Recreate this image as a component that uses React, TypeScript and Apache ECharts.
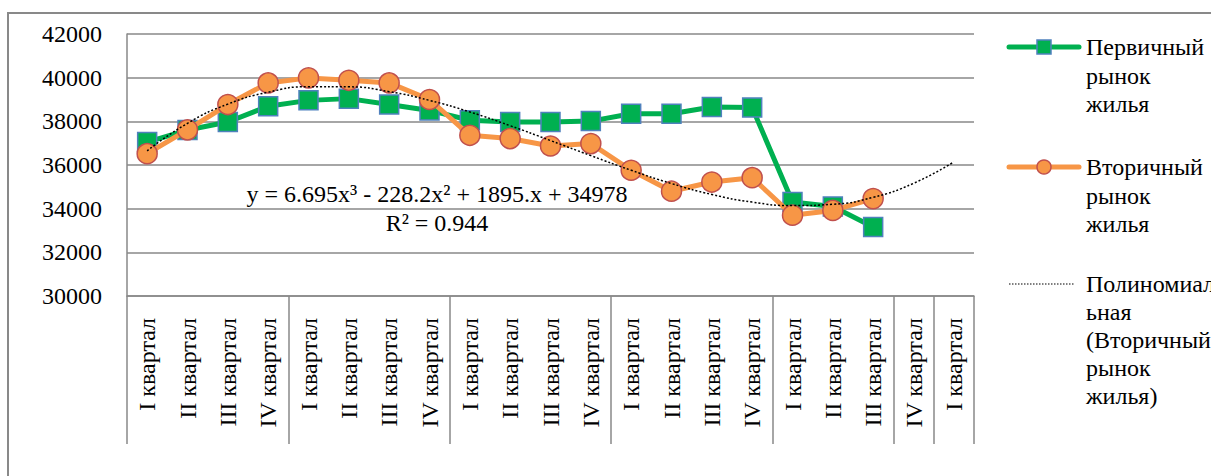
import React, { useEffect, useRef } from "react";
import * as echarts from "echarts";

const categories = [
  "I квартал", "II квартал", "III квартал", "IV квартал",
  "I квартал", "II квартал", "III квартал", "IV квартал",
  "I квартал", "II квартал", "III квартал", "IV квартал",
  "I квартал", "II квартал", "III квартал", "IV квартал",
  "I квартал", "II квартал", "III квартал", "IV квартал",
  "I квартал",
];
const primaryName = "Первичный рынок жилья";
const secondaryName = "Вторичный рынок жилья";
const trendName = "Полиномиальная (Вторичный рынок жилья)";
const primary = [37050, 37600, 37970, 38690, 38960, 39040, 38770, 38500, 38050, 37970, 37970, 38010, 38350, 38350, 38660, 38630, 34310, 34100, 33160, null, null];
const secondary = [36520, 37610, 38770, 39760, 39990, 39880, 39760, 39000, 37360, 37210, 36870, 36980, 35760, 34800, 35220, 35420, 33700, 33920, 34460, null, null];
const trend = [36650, 37910, 38790, 39335, 39585, 39580, 39360, 38960, 38430, 37800, 37120, 36430, 35760, 35150, 34650, 34300, 34140, 34200, 34520, 35160, 36140];
const groupBoundaries = [0, 4, 8, 12, 16, 19, 20];
const yTicks = { min: 30000, max: 42000, interval: 2000 };
const equationText = "y = 6.695x³ - 228.2x² + 1895.x + 34978";
const r2Text = "R² = 0.944";

const FONT = "Liberation Serif";
const FS = 24;
const GRAY = "#898989";

export default function App() {
  const ref = useRef<HTMLDivElement>(null);
  useEffect(() => {
    if (!ref.current) return;
    const chart = echarts.init(ref.current, null, { renderer: "svg" });
    const txt = (text: string, x: number, y: number, extra: any = {}) => ({
      type: "text",
      x,
      y,
      z: 10,
      style: { text, fontFamily: FONT, fontSize: FS, fill: "#000", ...extra },
    });
    chart.setOption({
      animation: false,
      backgroundColor: "#ffffff",
      textStyle: { fontFamily: FONT },
      grid: { left: 127, top: 34, right: 237, bottom: 180, containLabel: false },
      xAxis: {
        type: "category",
        data: categories,
        boundaryGap: true,
        axisLine: { show: true, lineStyle: { color: GRAY, width: 1.5 } },
        axisTick: {
          show: true,
          length: 148,
          interval: (i: number) => groupBoundaries.includes(i),
          lineStyle: { color: GRAY, width: 1.5 },
        },
        axisLabel: {
          interval: 0,
          rotate: 90,
          margin: 22,
          color: "#000",
          fontFamily: FONT,
          fontSize: FS,
        },
        splitLine: { show: false },
      },
      yAxis: {
        type: "value",
        min: yTicks.min,
        max: yTicks.max,
        interval: yTicks.interval,
        axisLine: { show: true, lineStyle: { color: GRAY, width: 1.5 } },
        axisTick: { show: false },
        axisLabel: { color: "#000", fontFamily: FONT, fontSize: FS, margin: 25, formatter: (v: number) => String(v) },
        splitLine: { show: true, lineStyle: { color: GRAY, width: 1.5 } },
      },
      series: [
        {
          name: primaryName,
          type: "line",
          data: primary,
          symbol: "rect",
          symbolSize: 19,
          lineStyle: { color: "#00b050", width: 5 },
          itemStyle: { color: "#00b050", borderColor: "#4f81bd", borderWidth: 1.5 },
          z: 2,
        },
        {
          name: secondaryName,
          type: "line",
          data: secondary,
          symbol: "circle",
          symbolSize: 20,
          lineStyle: { color: "#f79646", width: 5 },
          itemStyle: { color: "#f79646", borderColor: "#c0504d", borderWidth: 1.5 },
          z: 3,
        },
        {
          name: trendName,
          type: "line",
          data: trend,
          smooth: true,
          showSymbol: false,
          symbol: "none",
          lineStyle: { color: "#000", width: 1.5, type: [2, 2] },
          z: 4,
        },
      ],
      graphic: [
        {
          type: "rect",
          shape: { x: 8, y: 13, width: 1260, height: 520 },
          style: { fill: "none", stroke: GRAY, lineWidth: 2 },
          silent: true,
          z: -1,
        },
        txt(equationText, 437, 194, { textAlign: "center", textVerticalAlign: "middle" }),
        txt(r2Text, 437, 223, { textAlign: "center", textVerticalAlign: "middle" }),
        // legend item 1
        { type: "line", shape: { x1: 1009, y1: 47, x2: 1079, y2: 47 }, style: { stroke: "#00b050", lineWidth: 5, lineCap: "round" }, z: 10 },
        { type: "rect", shape: { x: 1037, y: 40, width: 14, height: 14 }, style: { fill: "#00b050", stroke: "#4f81bd", lineWidth: 1.5 }, z: 11 },
        txt("Первичный\nрынок\nжилья", 1086, 33, { lineHeight: 28.5, textVerticalAlign: "top" }),
        // legend item 2
        { type: "line", shape: { x1: 1009, y1: 167, x2: 1079, y2: 167 }, style: { stroke: "#f79646", lineWidth: 5, lineCap: "round" }, z: 10 },
        { type: "circle", shape: { cx: 1044, cy: 167, r: 7 }, style: { fill: "#f79646", stroke: "#c0504d", lineWidth: 1.5 }, z: 11 },
        txt("Вторичный\nрынок\nжилья", 1086, 153, { lineHeight: 28.5, textVerticalAlign: "top" }),
        // legend item 3
        { type: "line", shape: { x1: 1009, y1: 284, x2: 1075, y2: 284 }, style: { stroke: "#000", lineWidth: 1.2, lineDash: [1.5, 1.5] }, z: 10 },
        txt("Полиномиал\nьная\n(Вторичный\nрынок\nжилья)", 1086, 270, { lineHeight: 28, textVerticalAlign: "top" }),
      ],
    });
    return () => chart.dispose();
  }, []);
  return (
    <div
      ref={ref}
      style={{ position: "fixed", left: 0, top: 0, width: 1211, height: 476, background: "#fff" }}
    />
  );
}
